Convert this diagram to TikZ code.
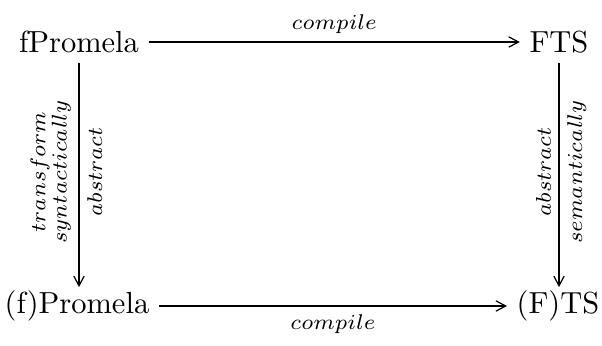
\documentclass[tikz,border=0pt]{standalone}
\usetikzlibrary{arrows.meta}
\begin{document}
\begin{tikzpicture}[x=0.328pt,y=-0.328pt,
  obj/.style={inner sep=3pt},
  arr/.style={-{Straight Barb[length=3.2pt,width=3.4pt,line width=0.4pt]},line width=0.4pt},
  lbl/.style={font=\scriptsize,inner sep=2.5pt},
  vlbl/.style={font=\scriptsize,inner sep=2.5pt,rotate=90,align=center}]
\useasboundingbox (0,0) rectangle (602,345);
% the four objects of the square
\node[obj] (fp)  at (79,42)  {fPromela};
\node[obj] (fts) at (559,42) {FTS};
\node[obj] (p)   at (77,306) {(f)Promela};
\node[obj] (ts)  at (558,306) {(F)TS};
% horizontal arrows
\draw[arr] (fp) -- node[lbl,above] {$compile$} (fts);
\draw[arr] (p) -- node[lbl,below] {$compile$} (ts);
% vertical arrows with rotated labels on both sides
\draw[arr,shorten >=-2pt] (fp.south) -- node[vlbl,anchor=south,pos=0.5] {$transform$\\[-1pt]$syntactically$}
  node[vlbl,anchor=north,pos=0.5] {$abstract$} (fp.south |- p.north);
\draw[arr,shorten >=-2pt] (fts.south) -- node[vlbl,anchor=south,pos=0.5] {$abstract$}
  node[vlbl,anchor=north,pos=0.5] {$semantically$} (fts.south |- ts.north);
\end{tikzpicture}
\end{document}
